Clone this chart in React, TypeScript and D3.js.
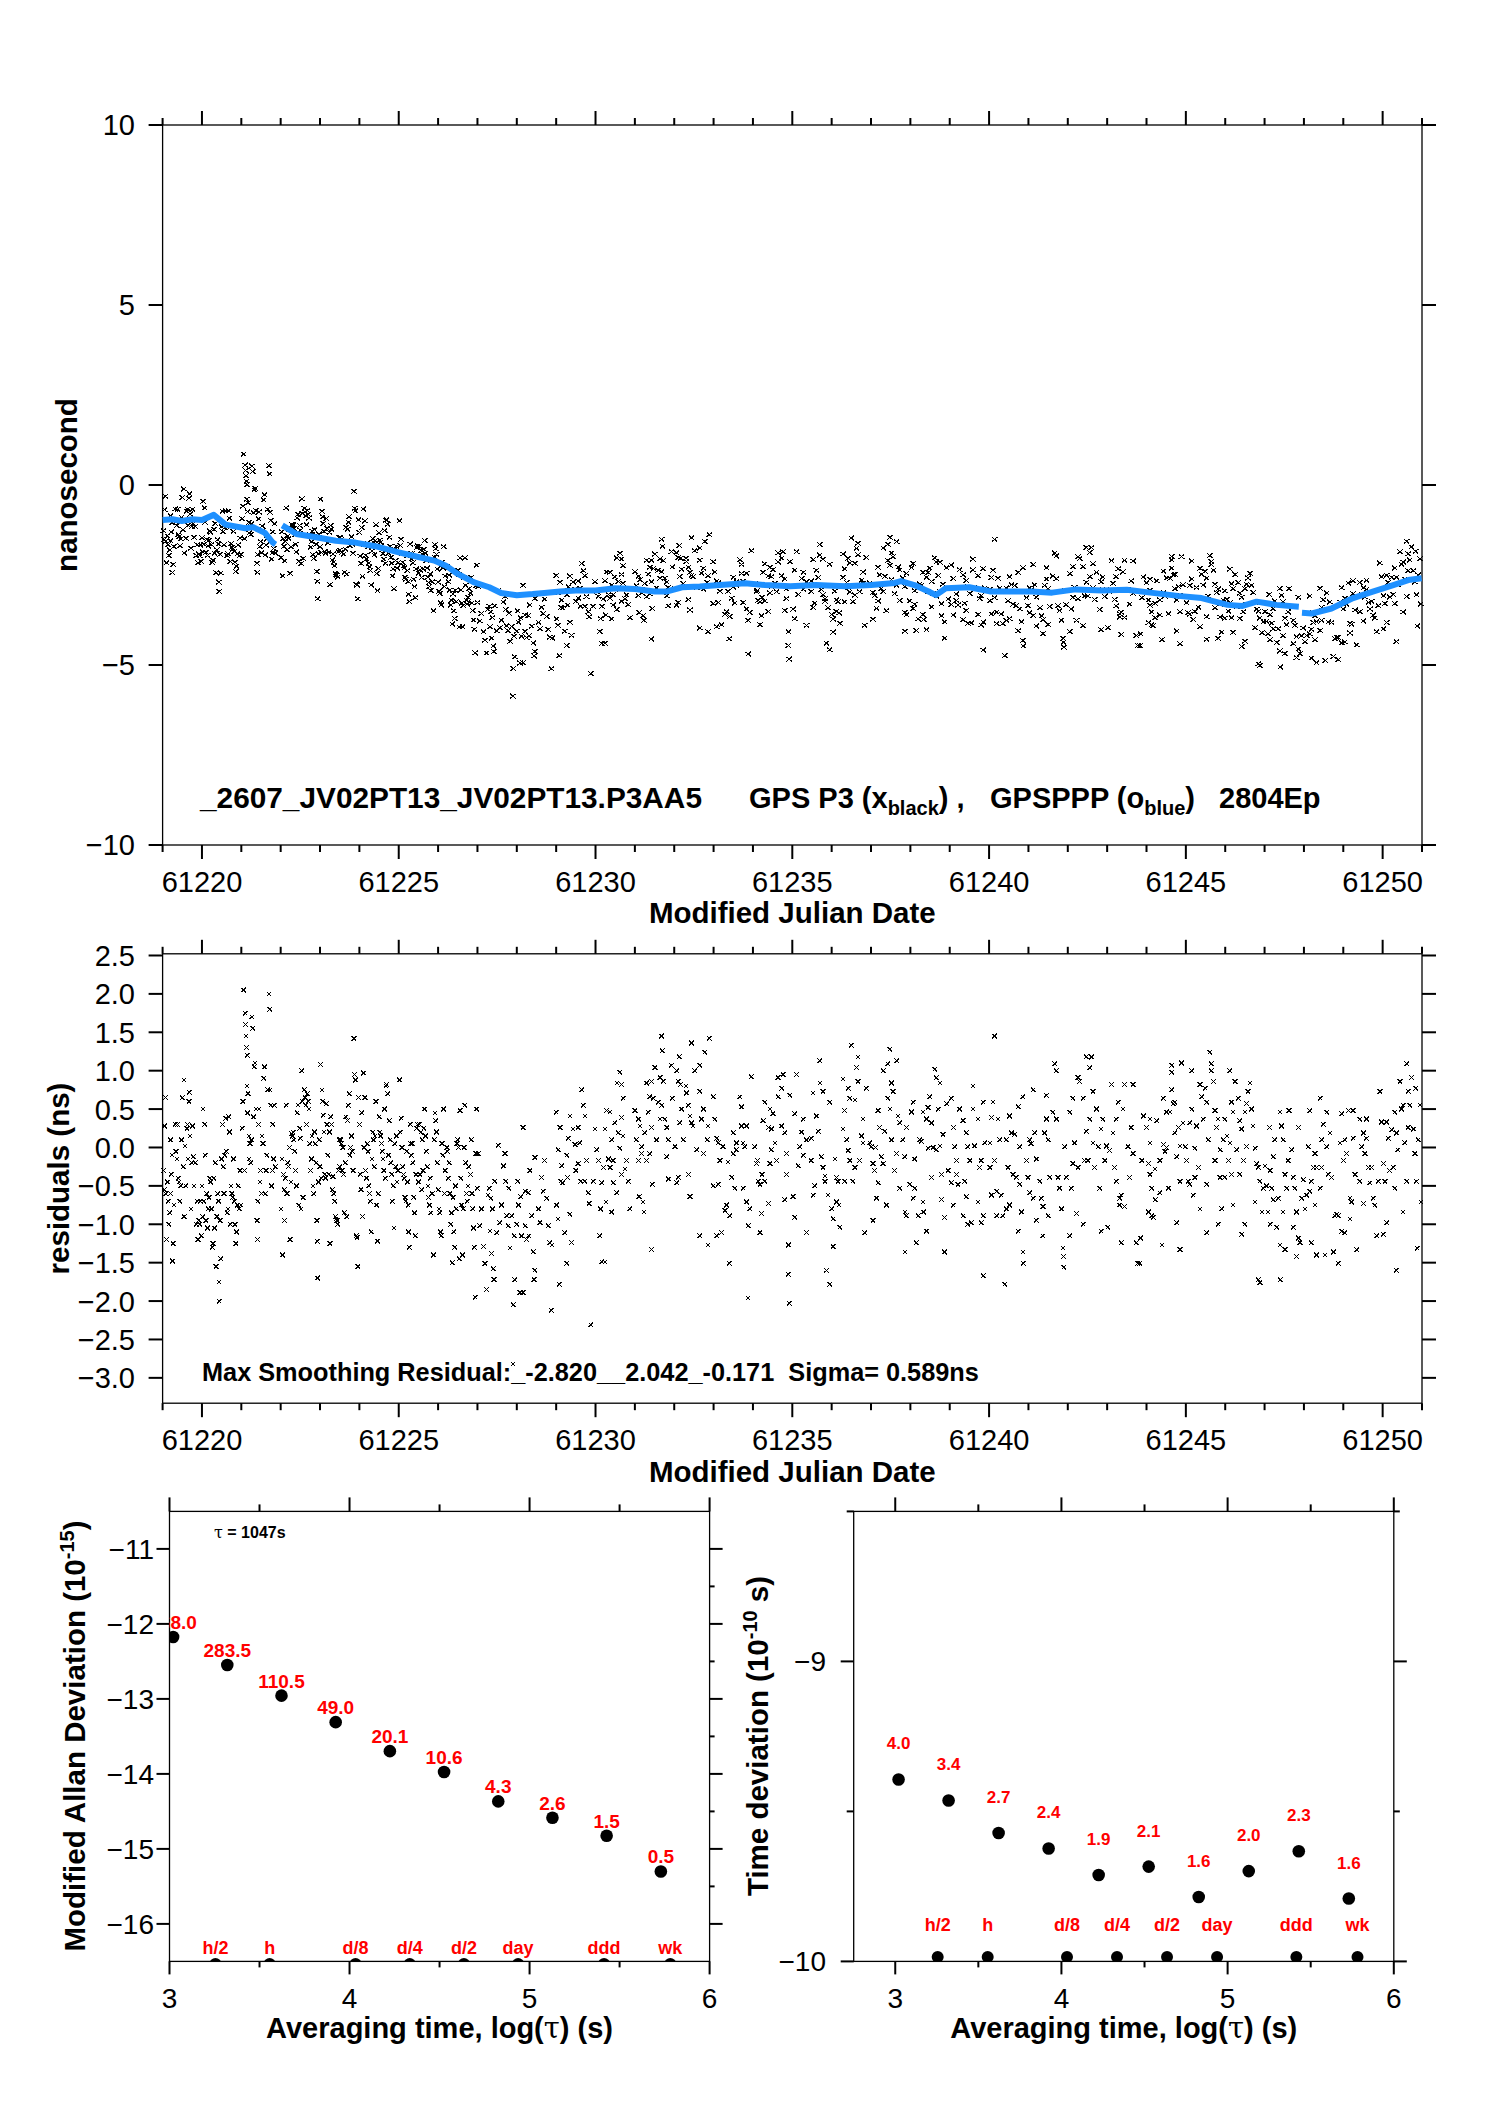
import React from 'react';
import * as d3 from 'd3';

const MJD_START = 61219;
const MJD_END = 61251;

// GPSPPP (blue) curve: [days since MJD 61219, ns], three continuous pieces
const blueSegment1: [number, number][] = [[0,-0.97],[0.25,-0.95],[0.49,-1.0],[0.75,-0.95],[1.0,-0.97],[1.3,-0.83],[1.6,-1.1],[2.1,-1.2],[2.3,-1.17],[2.6,-1.33],[2.8,-1.6],[2.87,-1.65]];
const blueSegment2: [number, number][] = [[3.04,-1.12],[3.4,-1.36],[3.9,-1.45],[4.4,-1.55],[4.9,-1.6],[5.4,-1.7],[6.0,-1.87],[6.5,-2.0],[6.9,-2.1],[7.2,-2.24],[7.5,-2.47],[7.9,-2.7],[8.3,-2.84],[8.6,-3.0],[9.0,-3.06],[9.4,-3.03],[9.7,-3.0],[10.1,-2.96],[10.5,-2.93],[11.0,-2.93],[11.5,-2.87],[12.0,-2.89],[12.5,-2.96],[12.8,-2.96],[13.2,-2.84],[13.65,-2.82],[14.16,-2.78],[14.8,-2.73],[15.3,-2.78],[15.95,-2.81],[16.6,-2.78],[17.35,-2.81],[18.0,-2.78],[18.6,-2.72],[18.76,-2.67],[19.1,-2.78],[19.45,-2.95],[19.65,-3.06],[19.9,-2.87],[20.5,-2.84],[21.05,-2.96],[21.57,-2.96],[22.08,-2.96],[22.6,-2.99],[23.2,-2.9],[23.87,-2.93],[24.5,-2.91],[25.1,-2.99],[25.8,-3.08],[26.4,-3.14],[27.06,-3.33],[27.44,-3.36],[27.8,-3.24],[28.3,-3.33],[28.87,-3.38]];
const blueSegment3: [number, number][] = [[28.95,-3.55],[29.2,-3.57],[29.7,-3.43],[30.25,-3.14],[30.75,-2.96],[31.27,-2.78],[31.65,-2.64],[31.99,-2.59]];

// smoothing residuals (ns): [days since MJD 61219, residual]
const residualsA: [number, number][] = [
[0.02,-0.3],[0.04,-0.55],[0.05,0.28],[0.07,0.65],[0.08,-0.6],[0.1,-1.2],[0.12,-0.45],[0.14,-0.7],[0.16,-1.0],[0.18,-0.85],[0.2,-0.6],[0.2,0.1],[0.22,-0.35],[0.24,-0.1],[0.25,-1.48],[0.27,-1.25],[0.29,-0.75],
[0.32,0.3],[0.34,-0.05],[0.36,-0.15],[0.38,0.3],[0.4,-0.4],[0.42,-0.45],[0.44,-0.7],[0.46,-0.5],[0.48,0.1],[0.5,0.65],[0.52,-0.25],[0.54,0.88],[0.55,-0.9],[0.57,0.02],[0.59,-0.5],
[0.62,0.25],[0.63,0.3],[0.65,-0.15],[0.67,0.6],[0.68,0.72],[0.7,0.15],[0.72,-0.8],[0.74,-0.2],[0.76,0.28],[0.78,-0.12],[0.8,-0.5],[0.83,-0.2],[0.86,-1.0],[0.88,-0.7],
[0.9,-1.2],[0.92,-0.95],[0.94,-1.0],[0.96,-0.7],[0.98,-1.15],[1.0,-0.5],[1.02,-0.9],[1.03,0.5],[1.05,-0.7],[1.07,0.3],[1.08,-0.1],[1.1,-0.95],[1.12,-0.6],[1.14,-1.05],[1.16,-0.8],[1.18,-0.65],
[1.2,-0.4],[1.22,-0.45],[1.24,-0.8],[1.26,-1.3],[1.28,-1.25],[1.3,-0.4],[1.32,-1.05],[1.34,-0.2],[1.36,-1.55],[1.38,-0.9],[1.4,-0.6],[1.42,-0.7],[1.43,-1.75],[1.44,-2.0],[1.46,-0.95],[1.48,-1.45],
[1.5,-0.15],[1.52,0.3],[1.54,-0.25],[1.56,-0.6],[1.58,-0.1],[1.6,0.38],[1.62,-0.05],[1.64,-0.85],[1.66,-0.8],[1.68,0.4],[1.7,0.2],[1.72,-1.0],[1.74,-0.5],[1.76,-0.6],[1.78,-0.65],
[1.8,-0.15],[1.82,-0.7],[1.84,-1.0],[1.86,-1.25],[1.88,-1.1],[1.9,-0.75],[1.92,-0.5],[1.95,-0.8],[1.97,-0.3],[1.99,-0.75],[2.02,0.25],[2.04,0.6],[2.06,2.05],[2.08,-0.3],
[2.1,1.75],[2.11,1.6],[2.12,1.45],[2.13,1.3],[2.14,0.8],[2.15,1.2],[2.16,0.45],[2.17,0.7],[2.19,0.15],[2.2,-0.15],[2.22,0.05],[2.24,-0.2],[2.26,0.1],[2.27,1.7],[2.29,1.55],[2.31,0.4],[2.33,1.05],[2.35,1.1],[2.37,0.5],
[2.4,-0.95],[2.41,-1.2],[2.42,-0.7],[2.44,0.3],[2.45,0.5],[2.47,-0.45],[2.49,-0.3],[2.51,-0.6],[2.53,0.15],[2.55,0.05],[2.57,0.9],[2.59,1.05],[2.61,-0.6],[2.63,-0.3],[2.65,-0.1],[2.67,0.75],
[2.7,2.0],[2.72,1.8],[2.73,0.75],[2.75,0.55],[2.77,-0.5],[2.79,-0.3],[2.8,0.3],[2.82,-0.15],[2.84,0.55],[2.86,-0.25],
[3.01,-0.8],[3.03,-0.15],[3.05,-1.4],[3.07,-0.35],[3.09,-0.55],[3.1,-0.95],[3.12,-0.4],[3.14,0.55],[3.16,-0.6],[3.18,-0.2],[3.2,-0.25],[3.22,0.0],[3.24,-1.2],[3.26,-0.45],[3.28,0.18],
[3.3,0.15],[3.32,0.2],[3.34,0.1],[3.36,-0.05],[3.38,-0.3],[3.4,-0.5],[3.42,0.45],[3.44,0.55],[3.46,-0.75],[3.48,0.25],[3.5,0.12],[3.52,-0.8],[3.54,1.0],[3.55,0.6],[3.57,-0.65],
[3.6,0.75],[3.62,0.65],[3.64,0.55],[3.66,0.3],[3.68,0.7],[3.7,0.6],[3.72,0.5],[3.74,0.05],[3.76,-0.3],[3.78,-0.15],[3.8,0.15],[3.82,-0.5],[3.84,-0.6],[3.86,0.2],[3.88,0.05],
[3.9,-0.2],[3.92,-0.95],[3.93,-1.22],[3.94,-1.7],[3.96,-0.45],[3.98,0.1],[4.0,-0.25],[4.01,1.08],[4.03,-0.4],[4.05,0.75],[4.07,0.6],[4.08,0.42],[4.1,0.2],[4.12,-0.35],[4.14,-0.4],[4.16,0.57],[4.18,0.3],
[4.2,-0.1],[4.22,-0.35],[4.24,0.2],[4.25,-1.25],[4.27,0.4],[4.29,0.3],[4.31,-0.55],[4.33,-0.38],[4.35,-0.6],[4.37,-0.7],[4.39,-0.9],[4.41,-0.93],[4.43,-0.95],[4.45,-1.0],[4.47,-0.3],[4.49,0.1],
[4.5,-0.25],[4.52,0.1],[4.54,0.05],[4.56,-0.3],[4.58,0.0],[4.6,-0.35],[4.62,-0.85],[4.64,-0.2],[4.66,0.4],[4.68,-0.9],[4.7,0.35],[4.72,0.55],[4.74,0.7],[4.76,-0.1],[4.78,0.0],
[4.8,0.15],[4.82,-0.05],[4.84,-0.3],[4.86,1.42],[4.88,0.95],[4.9,0.88],[4.92,-1.15],[4.94,-1.17],[4.96,-1.55],[4.98,0.65],[5.0,0.3],[5.02,-0.35],[5.04,-0.55],[5.06,0.45],[5.08,-0.9],[5.1,0.97],
[5.12,0.0],[5.14,0.65],[5.16,-0.3],[5.18,-0.4],[5.2,0.05],[5.22,-0.05],[5.24,-0.5],[5.26,-0.6],[5.28,-0.7],[5.3,-1.1],[5.32,-0.15],[5.34,0.2],[5.36,0.1],[5.38,-0.25],[5.4,0.15],
[5.42,0.6],[5.44,-0.75],[5.46,-1.22],[5.48,-0.6],[5.5,0.4],[5.52,0.2],[5.54,0.15],[5.56,0.05],[5.58,-0.05],[5.6,-0.15],[5.62,-0.3],[5.64,0.5],[5.66,-0.4],[5.68,0.8],[5.69,0.82],
[5.72,0.7],[5.74,-0.1],[5.76,0.35],[5.78,0.1],[5.8,-0.2],[5.82,-0.35],[5.84,-0.7],[5.86,-0.5],[5.88,-1.05],[5.9,0.05],[5.92,-0.25],[5.94,0.15],[5.96,-0.45],[5.98,-0.3],[6.02,0.88],
[6.04,0.2],[6.06,0.38],[6.08,0.0],[6.1,-0.25],[6.12,-0.35],[6.14,-0.4],[6.16,-0.65],[6.18,-0.7],[6.2,-0.05],[6.22,-0.45],[6.24,-0.75],[6.25,-1.1],[6.27,-1.3],[6.29,0.3],[6.3,0.05],
[6.32,-0.1],[6.34,0.05],[6.36,-0.2],[6.38,-0.65],[6.4,-0.85],[6.42,-1.15],[6.44,-0.35],[6.46,0.25],[6.48,0.3],[6.5,-0.45],[6.52,0.3],[6.54,-0.35],[6.56,0.2],[6.58,-0.55],[6.6,0.1],
[6.62,-0.3],[6.64,0.25],[6.66,0.5],[6.68,0.15],[6.7,-0.05],[6.72,-0.25],[6.74,-0.5],[6.76,-0.65],[6.78,-0.75],[6.8,-0.4],[6.82,-0.85],[6.85,-0.6],[6.88,-1.4],[6.9,0.1],
[6.92,0.45],[6.94,0.35],[6.96,0.2],[6.98,-0.2],[7.0,-0.55],[7.02,-0.8],[7.04,-0.85],[7.06,-1.1],[7.08,-1.15],[7.1,0.05],[7.12,-0.1],[7.14,0.5],[7.16,-0.6],[7.18,-0.3],
[7.22,0.0],[7.24,-0.05],[7.26,-0.4],[7.28,-0.2],[7.3,-0.6],[7.32,-1.0],[7.34,-0.85],[7.36,-1.5],[7.38,-0.65],[7.4,-1.1],[7.42,-1.3],[7.44,-0.5],[7.46,-0.8],[7.48,0.05],
[7.5,0.1],[7.52,0.0],[7.54,-1.45],[7.56,0.48],[7.58,-0.4],[7.6,-0.75],[7.62,-1.4],[7.64,-0.8],[7.66,0.0],[7.68,0.55],[7.7,-0.2],[7.72,-0.6],[7.74,-0.7],[7.76,-0.5],[7.78,-0.25],
[7.82,-0.35],[7.84,0.1],[7.86,-0.6],[7.88,-0.8],[7.9,-1.05],[7.92,-1.3],[7.94,-1.95],[7.96,-0.08],[7.98,0.5]];

const residualsB: [number, number][] = [
[8.02,-0.08],[8.0,-0.53],[8.1,-0.8],[8.06,-1.02],[8.15,-1.29],[8.19,-1.51],[8.23,-1.85],
[8.27,-0.62],[8.32,-1.09],[8.36,-1.38],[8.4,-1.58],[8.42,-1.72],[8.44,-0.44],[8.49,-1.11],[8.38,-0.8],[8.3,-0.53],[8.34,-0.66],
[8.53,0.03],[8.66,-0.24],[8.7,-0.08],[8.61,-0.75],[8.74,-0.89],[8.78,-1.02],[8.83,-1.31],[8.72,-0.44],[8.8,-0.53],[8.57,-0.98],
[8.91,-2.05],[8.95,-1.72],[9.08,-1.89],[9.16,-1.89],[8.93,-1.15],[9.0,-1.0],[9.04,-0.75],[9.1,-0.64],[9.16,0.26],[9.12,-1.15],[8.87,-0.89],[9.02,-0.44],[8.9,-2.82],
[9.21,-0.57],[9.29,-0.59],[9.38,-0.89],[9.42,-1.36],[9.46,-1.6],[9.44,-1.72],[9.31,-1.15],[9.33,-0.3],[9.46,-0.13],[9.21,-1.02],[9.25,-1.2],
[9.63,-0.39],[9.71,-0.17],[9.76,-0.66],[9.8,-1.02],[9.88,-2.12],[9.59,-0.98],[9.55,-0.8],[9.67,-0.57],[9.84,-1.24],
[9.9,-1.27],[10.0,0.46],[10.05,-0.03],[10.1,0.26],[10.14,-0.24],[10.12,-0.44],[10.16,-0.46],[10.01,-0.75],[10.05,-0.93],[10.08,-1.78],
[10.27,-0.1],[10.31,0.12],[10.35,0.41],[10.29,-0.39],[10.35,-0.87],[10.22,-1.11],[10.27,-1.51],[10.39,-1.24],[10.43,0.24],[10.48,0.04],[10.5,-0.3],
[10.56,0.26],[10.6,0.06],[10.65,0.75],[10.69,0.55],[10.73,0.41],[10.77,-0.17],[10.82,-0.59],[10.84,-0.73],[10.73,-0.44],[10.62,-0.44],[10.56,-0.21],[10.88,-2.31],
[10.99,0.24],[11.03,-0.03],[11.07,-0.17],[11.11,-1.15],[11.16,-1.49],[11.24,-1.49],[11.13,-0.8],[11.16,-0.46],[11.2,-0.26],[11.24,0.24],[10.94,-0.44],
[11.28,0.48],[11.37,0.46],[11.41,0.1],[11.45,-0.17],[11.33,-0.15],[11.37,-0.26],[11.26,-0.71],[11.41,-0.84],[11.45,-0.46],[11.54,-0.59],[11.49,0.32],
[11.54,0.84],[11.62,0.98],[11.66,0.82],[11.7,0.64],[11.66,0.39],[11.58,0.19],[11.7,0.15],[11.62,-0.01],[11.79,-0.17],[11.83,-0.44],[11.87,-0.8],[11.75,-0.28],[11.66,-0.35],
[12.0,0.48],[12.09,0.37],[12.13,0.28],[12.04,0.1],[12.17,-0.08],[12.09,-0.17],[12.21,-0.71],[12.11,-0.64],[12.23,-0.84],[12.17,0.01],
[12.3,0.84],[12.38,0.66],[12.47,0.64],[12.51,1.04],[12.42,0.86],[12.34,0.46],[12.42,0.26],[12.25,0.19],[12.38,-0.08],[12.44,-0.48],[12.42,-1.33],[12.3,-0.17],
[12.68,1.45],[12.7,1.26],[12.64,0.91],[12.72,0.86],[12.59,0.59],[12.68,0.55],[12.76,0.37],[12.81,0.26],[12.85,0.1],[12.81,-0.12],[12.85,-0.41],[12.55,0.1],[12.64,0.37],
[12.93,1.07],[13.06,1.0],[13.13,1.18],[13.1,0.86],[13.16,0.82],[12.95,0.64],[13.19,0.5],[13.02,0.01],[13.1,-0.39],[13.06,-0.46],[13.23,0.1],[13.14,0.32],
[13.3,0.8],[13.31,0.71],[13.36,0.55],[13.44,1.36],[13.4,0.41],[13.44,0.32],[13.48,0.28],[13.4,-0.64],[13.52,1.0],[13.36,-0.35],[13.57,-0.03],
[13.65,1.07],[13.78,1.24],[13.89,1.42],[13.65,0.73],[13.74,0.5],[13.65,-1.15],[13.86,0.28],[13.84,0.1],[13.74,-0.08],[13.86,-1.27],[13.69,0.37],
[13.99,0.66],[14.03,0.37],[14.08,0.12],[14.12,0.06],[14.08,-1.15],[14.2,-1.11],[13.99,-0.5],[14.12,-0.48],[14.16,-0.17],[14.24,0.01],[14.4,-1.51],
[14.29,-0.82],[14.33,-0.75],[14.41,-0.89],[14.5,-0.08],[14.58,-0.03],[14.54,-0.53],[14.46,-0.39],[14.37,-0.19],[14.5,0.19],[14.58,0.06],
[14.67,0.66],[14.71,0.53],[14.71,0.28],[14.75,0.06],[14.79,0.01],[14.75,-0.53],[14.84,-0.71],[14.88,-1.96],[14.84,0.28],[14.88,-1.02],[14.92,-0.8],
[14.96,0.92],[15.05,0.01],[15.09,-0.21],[15.13,-0.44],[15.18,-0.48],[15.22,-0.86],[15.18,-1.11],[15.26,0.35],[15.11,-0.17],[15.23,-0.35],
[15.3,0.59],[15.43,0.5],[15.47,0.24],[15.51,0.44],[15.39,0.26],[15.47,-0.03],[15.43,-0.21],[15.3,-0.44],[15.39,-0.73],[15.56,0.06],[15.6,-0.17],
[15.64,0.91],[15.73,0.77],[15.77,0.95],[15.64,0.66],[15.73,0.28],[15.81,0.19],[15.85,-0.08],[15.81,-0.68],[15.9,-1.27],[15.9,-1.65],[15.92,-2.03],[15.94,0.68],[15.85,-0.35],
[16.11,0.95],[16.06,0.44],[16.19,0.01],[16.15,-0.24],[16.28,-0.1],[16.02,-0.64],[16.06,-0.91],[16.36,-1.11],[16.28,0.37],[16.36,0.1],[16.24,0.2]];

const residualsC: [number, number][] = [
[16.48,0.12],[16.53,0.71],[16.48,-0.17],[16.53,-0.62],
[16.7,1.13],[16.7,0.84],[16.78,0.73],[16.61,0.41],[16.66,0.21],[16.57,-0.5],[16.78,-0.26],[16.83,-0.37],[16.74,-0.12],[16.87,-1.6],[16.95,-1.78],[16.83,-0.44],
[16.95,0.59],[17.04,-1.29],[17.0,-0.8],[17.04,-0.93],[17.12,-0.71],[17.16,-0.44],[17.08,-0.15],[17.21,-1.04],[17.12,-0.39],[16.91,-0.62],[17.19,-0.75],
[17.29,0.89],[17.33,0.48],[17.29,0.24],[17.38,0.1],[17.42,0.77],[17.46,0.64],[17.5,1.33],[17.46,-0.17],[17.33,-0.44],[17.54,-0.44],[17.42,-0.04],
[17.67,1.18],[17.63,1.04],[17.67,0.86],[17.59,0.62],[17.76,0.15],[17.8,0.06],[17.84,-1.11],[17.71,-0.17],[17.59,-0.26],[17.88,0.77],[17.8,0.37],
[17.97,0.06],[18.05,-0.21],[18.09,-0.3],[18.14,-0.66],[18.18,-0.46],[18.05,-0.95],[18.22,0.26],[18.18,0.48],[18.01,0.01],[18.12,0.0],
[18.31,1.0],[18.43,1.09],[18.48,1.28],[18.52,0.84],[18.56,0.73],[18.43,0.64],[18.48,0.5],[18.35,0.21],[18.31,-0.21],[18.39,-0.75],[18.26,-0.12],[18.52,0.1],
[18.65,1.13],[18.69,0.41],[18.73,0.32],[18.65,-0.08],[18.81,0.1],[18.86,-0.12],[18.73,-0.53],[18.86,-0.84],[18.9,0.26],[18.6,-0.3],
[19.07,0.59],[19.03,0.46],[19.11,-0.15],[18.98,-0.48],[19.11,-0.53],[19.07,-0.66],[18.9,-0.89],[19.15,-1.24],[19.2,-0.89],[19.24,0.1],[18.86,-1.36],
[19.32,0.46],[19.41,0.37],[19.45,0.52],[19.49,0.66],[19.54,0.32],[19.28,0.08],[19.45,-0.01],[19.32,-0.71],[19.41,-1.09],[19.54,-0.39],[19.34,-0.84],[19.58,0.0],
[19.62,1.02],[19.66,0.91],[19.75,0.84],[19.71,0.5],[19.66,-0.03],[19.75,0.02],[19.79,-0.35],[19.79,-0.68],[19.87,-0.91],[19.87,-1.36],[19.92,0.57],[19.83,0.17],
[20.04,0.64],[20.09,0.26],[20.13,0.01],[20.17,-0.17],[20.04,-0.46],[20.09,-0.75],[20.21,-0.48],[20.25,0.5],[20.17,-0.35],[19.96,-0.3],
[20.34,0.35],[20.42,0.19],[20.46,0.01],[20.38,-0.44],[20.42,-0.64],[20.34,-0.89],[20.46,-1.0],[20.55,-0.98],[20.59,0.8],[20.59,0.5],[20.51,-0.17],
[20.72,0.37],[20.85,0.59],[20.8,-0.17],[20.76,-0.26],[20.85,-0.89],[20.8,-0.98],[20.85,-1.67],[20.72,-0.71],[20.63,0.02],[20.89,0.06],
[21.14,1.45],[21.1,0.59],[21.06,0.39],[21.02,0.06],[21.14,-0.17],[21.06,-0.62],[21.19,-0.57],[21.27,0.1],[21.23,0.37],[21.19,-0.89],[21.02,-0.26],
[21.31,-0.62],[21.35,-0.89],[21.4,-1.78],[21.44,-0.8],[21.52,-0.75],[21.48,-0.26],[21.57,0.19],[21.52,0.41],[21.44,0.1],[21.61,-0.35],
[21.65,0.17],[21.74,0.53],[21.78,0.01],[21.69,-0.39],[21.78,-0.48],[21.82,-0.84],[21.74,-1.09],[21.86,-1.36],[21.87,-1.51],[21.86,0.66],[21.95,-0.17],
[22.03,0.1],[22.12,0.75],[22.07,0.05],[22.16,0.19],[22.03,-0.59],[22.12,-0.66],[22.2,-0.95],[22.29,-0.44],[22.2,-0.15],[21.99,-0.39],
[22.33,-0.66],[22.37,-0.77],[22.41,0.19],[22.46,0.37],[22.5,0.1],[22.54,-0.39],[22.5,-0.89],[22.37,-1.15],[22.46,0.68],[22.62,0.46],
[22.67,1.09],[22.71,1.0],[22.75,-0.39],[22.79,-0.53],[22.84,-0.8],[22.88,-1.31],[22.89,-1.42],[22.9,-1.56],[22.96,-0.39],[22.92,0.01],[22.71,0.37],
[23.05,-1.15],[23.09,-0.53],[23.13,-0.21],[23.17,0.06],[23.22,-0.86],[23.05,0.46],[23.13,0.64],[23.26,0.91],[23.3,0.86],[23.26,-0.26],[23.39,-1.0],
[23.39,0.64],[23.47,1.18],[23.6,1.18],[23.56,1.04],[23.64,0.73],[23.47,0.21],[23.51,-0.17],[23.56,0.37],[23.64,0.06],[23.43,-0.17],
[23.73,0.5],[23.77,0.01],[23.85,0.24],[23.81,-0.53],[23.89,0.37],[23.85,-1.09],[24.02,-1.04],[23.94,-0.17],[23.68,-0.26],[23.98,0.02],
[24.11,0.82],[24.15,0.19],[24.19,-0.26],[24.23,-0.44],[24.28,0.59],[24.32,-0.66],[24.36,-1.24],[24.32,-0.75],[24.06,-0.04],[24.23,0.37],
[24.44,0.82],[24.66,0.82],[24.4,0.5],[24.53,0.01],[24.61,0.26],[24.57,-0.39],[24.44,-0.77],[24.74,-1.24],[24.78,-1.51],[24.66,-0.08],[24.36,-0.62]];

const residualsD: [number, number][] = [
[24.83,-1.51],[24.88,-0.17],[24.92,0.41],[24.85,-1.18],
[25.0,0.26],[25.09,0.06],[25.05,-0.21],[25.09,-0.35],[25.05,-0.84],[25.13,-0.89],[25.17,-0.91],[25.13,-0.53],[25.22,-0.28],[25.09,0.37],[25.26,0.35],[25.22,-0.68],
[25.34,-0.59],[25.39,-1.27],[25.43,0.64],[25.43,0.04],[25.47,-0.05],[25.51,0.46],[25.56,-0.53],[25.34,-0.17],[25.6,0.46],[25.51,0.0],
[25.64,1.07],[25.64,0.98],[25.64,0.75],[25.68,0.57],[25.72,0.59],[25.72,0.19],[25.77,-0.12],[25.81,0.26],[25.85,-0.44],[25.89,1.1],[25.77,-0.98],[25.85,-1.33],[25.93,0.32],[25.85,0.02],
[25.98,0.01],[26.02,-0.17],[26.06,-0.44],[26.1,-0.48],[26.15,1.0],[26.15,0.5],[26.19,-0.62],[26.23,-0.01],[26.27,0.28],[26.23,-0.39],[26.1,0.32],
[26.36,0.82],[26.4,0.66],[26.49,0.77],[26.53,0.59],[26.61,1.24],[26.65,1.09],[26.44,0.37],[26.57,0.1],[26.53,-0.48],[26.53,-1.11],[26.36,-0.8],[26.32,-0.26],
[26.65,1.0],[26.7,0.86],[26.74,0.48],[26.78,0.26],[26.82,0.37],[26.74,-0.17],[26.87,-0.03],[26.91,-0.8],[26.82,-1.0],[26.87,-0.39],[26.95,0.1],
[26.99,0.37],[27.04,0.15],[27.08,-0.17],[27.12,1.0],[27.16,0.59],[27.2,0.46],[27.12,0.06],[27.16,-0.35],[27.25,0.86],[27.2,-0.75],[26.99,-0.39],[27.29,-0.03],
[27.33,0.64],[27.37,0.35],[27.42,0.24],[27.37,-0.35],[27.42,-1.13],[27.5,0.46],[27.54,0.57],[27.58,0.73],[27.63,0.84],[27.54,0.01],[27.5,-1.0],[27.46,-0.17],
[27.67,0.5],[27.71,0.28],[27.76,-0.01],[27.8,-0.21],[27.84,-0.26],[27.76,-0.71],[27.84,-1.72],[27.88,-1.76],[27.93,-0.84],[27.97,-0.53],[27.88,-0.44],
[28.01,-0.24],[28.05,-0.5],[28.09,-0.84],[28.14,-1.0],[28.18,-0.53],[28.22,-0.12],[28.26,0.1],[28.31,-1.04],[28.22,-0.68],[28.12,0.26],[28.14,-0.3],
[28.39,0.46],[28.43,0.28],[28.47,0.1],[28.39,-1.27],[28.4,-1.72],[28.52,-1.33],[28.47,-0.84],[28.52,-0.35],[28.56,-0.53],[28.6,-0.17],[28.62,0.48],[28.35,-0.66],
[28.69,-0.03],[28.73,-0.39],[28.77,-0.53],[28.81,-0.84],[28.86,-1.18],[28.9,-1.24],[28.81,-1.42],[28.86,0.26],[28.94,-0.66],[28.73,-1.04],[28.98,-0.42],
[29.03,-0.8],[29.07,-0.62],[29.11,0.01],[29.15,-0.57],[29.19,-0.44],[29.15,0.48],[29.19,-1.24],[29.24,-0.26],[29.28,-0.08],[29.32,-1.4],[29.28,-0.75],[29.32,-0.26],
[29.41,0.64],[29.45,0.1],[29.49,0.3],[29.54,-1.4],[29.58,0.01],[29.45,-0.26],[29.41,-0.53],[29.62,-0.35],[29.58,0.46],[29.66,0.19],
[29.7,-0.39],[29.75,-1.36],[29.79,-0.89],[29.83,-0.87],[29.87,-1.51],[29.92,0.06],[29.96,0.44],[30.0,-0.17],[29.96,-1.09],[29.87,-0.89],
[30.04,0.1],[30.08,-0.08],[30.13,0.48],[30.17,-0.66],[30.21,-0.71],[30.25,0.12],[30.3,-0.35],[30.34,-1.33],[30.04,-1.11],[30.17,-0.93],[30.25,0.48],
[30.42,0.37],[30.47,0.01],[30.51,0.19],[30.55,-0.08],[30.59,0.37],[30.64,-0.26],[30.51,-0.73],[30.68,-0.46],[30.59,0.12],[30.42,-0.44],
[30.72,-0.26],[30.76,-0.66],[30.8,-0.75],[30.85,-1.15],[30.89,-0.44],[30.93,0.73],[30.97,0.33],[31.02,-0.21],[31.06,-0.44],[31.1,-0.98],[31.02,-1.13],
[31.1,0.33],[31.14,0.12],[31.18,-0.3],[31.23,0.23],[31.27,-0.26],[31.31,-0.53],[31.35,-1.6],[31.35,0.19],[31.31,0.46],[31.39,-0.03],
[31.44,0.86],[31.48,0.5],[31.52,0.55],[31.56,0.06],[31.61,1.09],[31.65,0.73],[31.69,0.55],[31.52,-0.84],[31.65,0.26],[31.61,-0.44],
[31.73,0.91],[31.78,0.24],[31.82,-0.08],[31.86,-0.44],[31.88,-1.31],[31.9,0.1],[31.95,0.55],[31.97,-0.71],[31.84,0.77]];

// stability analysis
const tauSeconds = [1047, 2094, 4188, 8376, 16752, 33504, 67008, 134016, 268032, 536064];
const modAllanDev = [668.0, 283.5, 110.5, 49.0, 20.1, 10.6, 4.3, 2.6, 1.5, 0.5]; // x 1e-15
const timeDev = [4.04, 3.44, 2.68, 2.38, 1.94, 2.07, 1.64, 2.0, 2.33, 1.62]; // x 1e-10 s
const markerNames = ['h/2', 'h', 'd/8', 'd/4', 'd/2', 'day', 'ddd', 'wk'];
const markerSeconds = [1800, 3600, 10800, 21600, 43200, 86400, 259200, 604800];

const FONT = '"Liberation Sans", Arial, Helvetica, sans-serif';
const BLUE = '#1e90ff';
const RED = '#ff0000';

const xT = d3.scaleLinear().domain([MJD_START, MJD_END]).range([162.6, 1422]);
const yTop = d3.scaleLinear().domain([-10, 10]).range([845, 125]);
const yRes = d3.scaleLinear().domain([-3.33, 2.522]).range([1403.2, 953.8]);
const xL = d3.scaleLinear().domain([3, 6]).range([169.5, 709.6]);
const yL = d3.scaleLinear().domain([-16.5, -10.5]).range([1961.4, 1511.4]);
const xR = d3.scaleLinear().domain([2.75, 6]).range([853.7, 1393.8]);
const yR = d3.scaleLinear().domain([-10, -8.5]).range([1961.4, 1511.4]);

const blueAll = [...blueSegment1, ...blueSegment2, ...blueSegment3];
const bis = d3.bisector((d: [number, number]) => d[0]).left;
function blueAt(t: number): number {
  const i = bis(blueAll, t);
  if (i <= 0) return blueAll[0][1];
  if (i >= blueAll.length) return blueAll[blueAll.length - 1][1];
  const a = blueAll[i - 1], b = blueAll[i];
  return a[1] + (b[1] - a[1]) * (t - a[0]) / (b[0] - a[0]);
}
const residualsAll = [...residualsA, ...residualsB, ...residualsC, ...residualsD];

function crossPath(pts: [number, number][], sx: number, sy: number) {
  return pts.map(([x, y]) => `M${(x - sx).toFixed(1)},${(y - sy).toFixed(1)}l${2 * sx},${2 * sy}m0,${-2 * sy}l${-2 * sx},${2 * sy}`).join('');
}
const minus = (v: number, digits: number) => (v < 0 ? '\u2212' : '') + Math.abs(v).toFixed(digits);

function TimeFrame({ y, yTicks, digits, labelY, titleY }: any) {
  const [x0, x1] = xT.range();
  const top = y.range()[1], bot = y.range()[0];
  const days = d3.range(MJD_START, MJD_END + 1);
  return (
    <g>
      <rect x={x0} y={top} width={x1 - x0} height={bot - top} fill="none" stroke="#000" strokeWidth={1.3} />
      {days.map(d => {
        const len = d % 5 === 0 ? 14 : 7;
        const px = xT(d);
        return <g key={d} stroke="#000" strokeWidth={2}>
          <line x1={px} x2={px} y1={top} y2={top - len} />
          <line x1={px} x2={px} y1={bot} y2={bot + len} />
        </g>;
      })}
      {days.filter(d => d % 5 === 0).map(d => (
        <text key={'l' + d} x={xT(d)} y={labelY} textAnchor="middle" fontSize={29}>{d}</text>
      ))}
      {yTicks.map((v: number) => (
        <g key={'y' + v}>
          <line x1={x0 - 14} x2={x0} y1={y(v)} y2={y(v)} stroke="#000" strokeWidth={2} />
          <line x1={x1} x2={x1 + 14} y1={y(v)} y2={y(v)} stroke="#000" strokeWidth={2} />
          <text x={135} y={y(v)} dy="0.36em" textAnchor="end" fontSize={29}>{minus(v, digits)}</text>
        </g>
      ))}
      <text x={(x0 + x1) / 2} y={titleY} textAnchor="middle" fontSize={29.5} fontWeight="bold">Modified Julian Date</text>
    </g>
  );
}

function StabFrame({ x, y, xTicks, yMajor, yMinor, yLabelX, clipId }: any) {
  const [x0, x1] = x.range();
  const top = y.range()[1], bot = y.range()[0];
  return (
    <g>
      <defs>
        <clipPath id={clipId}><rect x={x0} y={top} width={x1 - x0} height={bot - top} /></clipPath>
      </defs>
      <rect x={x0} y={top} width={x1 - x0} height={bot - top} fill="none" stroke="#000" strokeWidth={1.3} />
      {xTicks.map((v: number) => {
        const major = Number.isInteger(v);
        return <g key={'x' + v} stroke="#000" strokeWidth={2}>
          <line x1={x(v)} x2={x(v)} y1={top} y2={top - (major ? 14 : 7)} />
          <line x1={x(v)} x2={x(v)} y1={bot} y2={bot + (major ? 13 : 6)} />
        </g>;
      })}
      {xTicks.filter((v: number) => Number.isInteger(v)).map((v: number) => (
        <text key={'xl' + v} x={x(v)} y={2008} textAnchor="middle" fontSize={28}>{v}</text>
      ))}
      {yMajor.map((v: number) => (
        <g key={'ym' + v}>
          <line x1={x0 - 13} x2={x0} y1={y(v)} y2={y(v)} stroke="#000" strokeWidth={2} />
          <line x1={x1} x2={x1 + 13} y1={y(v)} y2={y(v)} stroke="#000" strokeWidth={2} />
          <text x={yLabelX} y={y(v)} dy="0.36em" textAnchor="end" fontSize={28}>{minus(v, 0)}</text>
        </g>
      ))}
      {yMinor.map((v: number) => (
        <g key={'yn' + v} stroke="#000" strokeWidth={2}>
          <line x1={x0 - 7} x2={x0} y1={y(v)} y2={y(v)} />
          <line x1={x1} x2={x1 + 6} y1={y(v)} y2={y(v)} />
        </g>
      ))}
      <text x={(x0 + x1) / 2} y={2038} textAnchor="middle" fontSize={29} fontWeight="bold">
        Averaging time, log(<tspan fontFamily="DejaVu Serif" fontWeight="normal">τ</tspan>) (s)
      </text>
    </g>
  );
}

export default function App() {
  const resPts = residualsAll.map(([t, v]) => [xT(MJD_START + t), yRes(v)] as [number, number]);
  const topPts = residualsAll.map(([t, v]) => [xT(MJD_START + t), yTop(blueAt(t) + v)] as [number, number]);
  const blueLine = d3.line<[number, number]>().x(d => xT(MJD_START + d[0])).y(d => yTop(d[1]));
  const logTau = tauSeconds.map(s => Math.log10(s));
  const logMarkers = markerSeconds.map(s => Math.log10(s));
  const stabTicks = [3, 3.5, 4, 4.5, 5, 5.5, 6];
  const resTicks = d3.range(-6, 6).map(i => i * 0.5);

  return (
    <svg width={1488} height={2105} style={{ position: 'absolute', left: 0, top: 0, background: '#fff' }}
      fontFamily={FONT} fill="#000">
      <rect width={1488} height={2105} fill="#fff" />

      {/* ---------- top panel ---------- */}
      <TimeFrame y={yTop} yTicks={[-10, -5, 0, 5, 10]} digits={0} labelY={892} titleY={923} />
      <path d={crossPath(topPts, 2.7, 2.3)} stroke="#000" strokeWidth={1.1} fill="none" shapeRendering="crispEdges" />
      {[blueSegment1, blueSegment2, blueSegment3].map((seg, i) => (
        <path key={i} d={blueLine(seg) || ''} stroke={BLUE} strokeWidth={6} fill="none" strokeLinejoin="round" />
      ))}
      <text transform="translate(77,485) rotate(-90)" textAnchor="middle" fontSize={29.5} fontWeight="bold">nanosecond</text>
      <g fontSize={29} fontWeight="bold">
        <text x={200} y={808} fontSize={29.8}>_2607_JV02PT13_JV02PT13.P3AA5</text>
        <text x={749} y={808}>GPS P3 (x<tspan fontSize={20} dy={7}>black</tspan><tspan dy={-7}>) ,</tspan></text>
        <text x={990} y={808}>GPSPPP (o<tspan fontSize={20} dy={7}>blue</tspan><tspan dy={-7}>)</tspan></text>
        <text x={1219} y={808}>2804Ep</text>
      </g>

      {/* ---------- residual panel ---------- */}
      <TimeFrame y={yRes} yTicks={resTicks} digits={1} labelY={1450} titleY={1482} />
      <path d={crossPath(resPts, 2.3, 2.3)} stroke="#000" strokeWidth={1.1} fill="none" shapeRendering="crispEdges" />
      <text transform="translate(69,1178.5) rotate(-90)" textAnchor="middle" fontSize={29.5} fontWeight="bold">residuals (ns)</text>
      <text x={202} y={1381} fontSize={25.3} fontWeight="bold" style={{ whiteSpace: 'pre' }}>Max Smoothing Residual:_-2.820__2.042_-0.171  Sigma= 0.589ns</text>

      {/* ---------- modified Allan deviation ---------- */}
      <StabFrame x={xL} y={yL} xTicks={stabTicks} yMajor={[-11, -12, -13, -14, -15, -16]}
        yMinor={[]} yLabelX={154} clipId="clipL" />
      {[-11.5, -12.5, -13.5, -14.5, -15.5].map(v => (
        <line key={'rm' + v} x1={709.6} x2={714.6} y1={yL(v)} y2={yL(v)} stroke="#000" strokeWidth={2} />
      ))}
      <g clipPath="url(#clipL)">
        {logTau.map((lt, i) => (
          <g key={'a' + i}>
            <circle cx={xL(lt)} cy={yL(Math.log10(modAllanDev[i]) - 15)} r={6.3} fill="#000" />
            <text x={xL(lt)} y={yL(Math.log10(modAllanDev[i]) - 15) - 8} textAnchor="middle" fontSize={19}
              fontWeight="bold" fill={RED}>{modAllanDev[i].toFixed(1)}</text>
          </g>
        ))}
        {logMarkers.map((lm, i) => (
          <circle key={'m' + i} cx={xL(lm)} cy={yL(-16.5) + 2.5} r={6} fill="#000" />
        ))}
      </g>
      {logMarkers.map((lm, i) => (
        <text key={'ml' + i} x={xL(lm)} y={1953.6} textAnchor="middle" fontSize={18} fontWeight="bold" fill={RED}>{markerNames[i]}</text>
      ))}
      <text x={214} y={1538} fontSize={16} fontWeight="bold"><tspan fontFamily="DejaVu Serif" fontWeight="normal">τ</tspan> = 1047s</text>
      <text transform="translate(85,1736) rotate(-90)" textAnchor="middle" fontSize={29.5} fontWeight="bold">
        Modified Allan Deviation (10<tspan fontSize={20} dy={-11}>-15</tspan><tspan dy={11}>)</tspan>
      </text>

      {/* ---------- time deviation ---------- */}
      <StabFrame x={xR} y={yR} xTicks={stabTicks} yMajor={[-9, -10]} yMinor={[-8.5, -9.5]}
        yLabelX={826} clipId="clipR" />
      <g clipPath="url(#clipR)">
        {logTau.map((lt, i) => (
          <circle key={'t' + i} cx={xR(lt)} cy={yR(Math.log10(timeDev[i]) - 10)} r={6.3} fill="#000" />
        ))}
        {logMarkers.map((lm, i) => (
          <circle key={'tm' + i} cx={xR(lm)} cy={yR(-10) - 4.3} r={6} fill="#000" />
        ))}
      </g>
      {logTau.map((lt, i) => (
        <text key={'tl' + i} x={xR(lt)} y={yR(Math.log10(timeDev[i]) - 10) - 30} textAnchor="middle" fontSize={17}
          fontWeight="bold" fill={RED}>{timeDev[i].toFixed(1)}</text>
      ))}
      {logMarkers.map((lm, i) => (
        <text key={'tml' + i} x={xR(lm)} y={1931} textAnchor="middle" fontSize={18} fontWeight="bold" fill={RED}>{markerNames[i]}</text>
      ))}
      <text transform="translate(768,1736) rotate(-90)" textAnchor="middle" fontSize={29.5} fontWeight="bold">
        Time deviation (10<tspan fontSize={20} dy={-11}>-10</tspan><tspan dy={11}> s)</tspan>
      </text>
    </svg>
  );
}
